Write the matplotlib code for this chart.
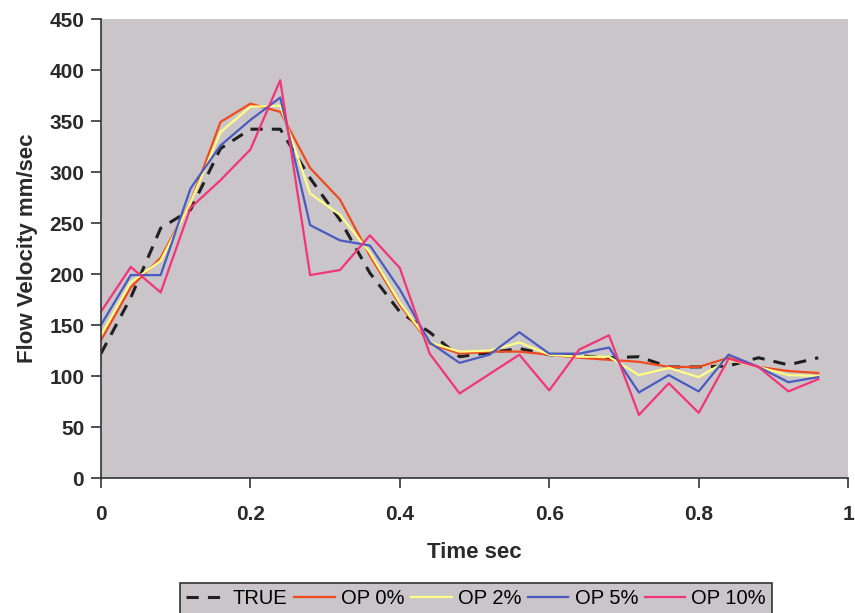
import numpy as np
import matplotlib.pyplot as plt

plt.rcParams['font.family'] = ['Liberation Sans', 'DejaVu Sans']

# sample times (s)
t = np.arange(25) * 0.04

true_v = [122, 177, 245, 263, 323, 342, 342, 294, 253, 201, 163, 143, 119, 123, 127, 121,
          120, 118, 119, 109, 109, 110, 118, 111, 118]
op0 = [135, 187, 216, 270, 349, 367, 359, 304, 273, 218, 170, 132, 122, 124, 124, 121,
       118, 116, 114, 109, 109, 118, 109, 105, 103]
op2 = [140, 192, 213, 270, 339, 364, 365, 279, 258, 221, 172, 133, 124, 125, 133, 121,
       119, 119, 101, 108, 99, 116, 109, 101, 100]
op5 = [150, 199, 199, 284, 326, 351, 373, 248, 233, 228, 185, 133, 113, 121, 143, 122,
       122, 128, 84, 101, 85, 121, 109, 94, 99]
op10 = [163, 207, 182, 265, 292, 322, 390, 199, 204, 238, 206, 122, 83, 102, 121, 86,
        126, 140, 62, 93, 64, 117, 109, 85, 97]

bg = '#c9c5c9'
ink = '#2a2a2a'

fig = plt.figure(figsize=(8.55, 6.13), dpi=100)
ax = fig.add_axes([0.118, 0.22, 0.874, 0.749])
ax.set_facecolor(bg)

ax.plot(t, true_v, color='#202020', lw=2.2, ls=(0, (4, 3)), label='TRUE')
ax.plot(t, op0, color='#f04a1e', lw=1.6, label='OP 0%')
ax.plot(t, op2, color='#ffff84', lw=1.6, label='OP 2%')
ax.plot(t, op5, color='#4a5ac0', lw=1.6, label='OP 5%')
ax.plot(t, op10, color='#f2357a', lw=1.6, label='OP 10%')

ax.set_xlim(0, 1)
ax.set_ylim(0, 450)
ax.set_xticks([0, 0.2, 0.4, 0.6, 0.8, 1])
ax.set_xticklabels(['0', '0.2', '0.4', '0.6', '0.8', '1'])
ax.set_yticks(range(0, 451, 50))

for s in ['top', 'right']:
    ax.spines[s].set_visible(False)
for s in ['left', 'bottom']:
    ax.spines[s].set_color('#333333')
    ax.spines[s].set_linewidth(1.2)

ax.tick_params(axis='y', direction='out', length=7, width=1.2, color='#333333',
               labelsize=15, labelcolor=ink, pad=5)
ax.tick_params(axis='x', direction='out', length=7, width=1.2, color='#333333',
               labelsize=15, labelcolor=ink, pad=12)
for lab in ax.get_xticklabels() + ax.get_yticklabels():
    lab.set_fontweight('bold')

ax.set_xlabel('Time sec', fontsize=16, fontweight='bold', color=ink, labelpad=13)
ax.set_ylabel('Flow Velocity mm/sec', fontsize=16, fontweight='bold', color=ink, labelpad=8)

leg = fig.legend(loc='lower center', bbox_to_anchor=(0.557, -0.018), ncol=5,
                 fontsize=14.5, frameon=True, fancybox=False, handlelength=2.0,
                 handletextpad=0.3, columnspacing=0.35, borderpad=0.3)
leg.get_frame().set_facecolor(bg)
leg.get_frame().set_edgecolor('#333333')
leg.get_frame().set_linewidth(1.2)
leg.get_frame().set_alpha(1)

fig.savefig('out.png', dpi=100)
